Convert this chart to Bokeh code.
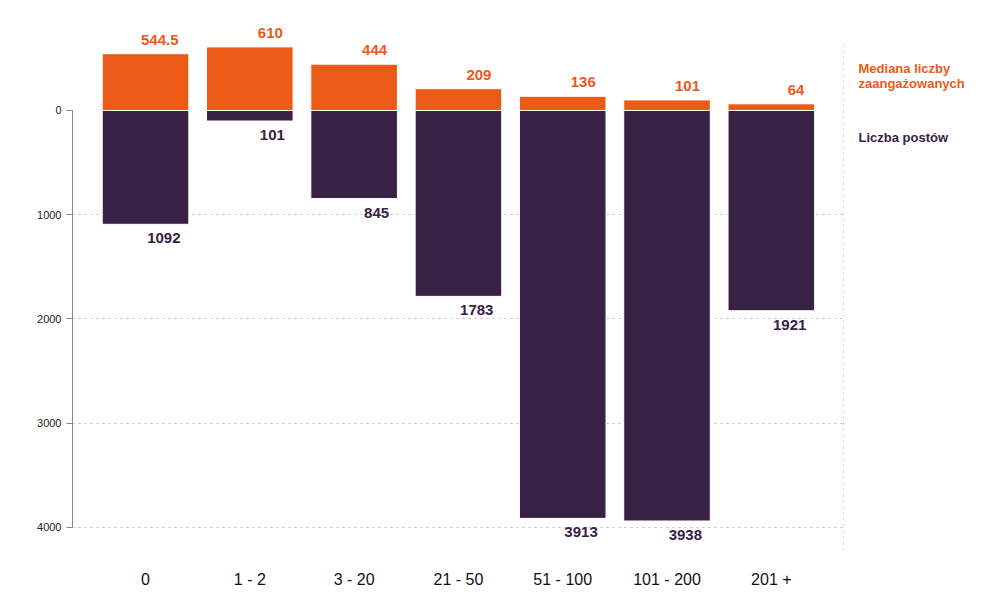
from bokeh.plotting import figure
from bokeh.models import ColumnDataSource, FixedTicker, Label, Grid
from bokeh.core.properties import value
from bokeh.embed import file_html
from bokeh.resources import INLINE

categories = ["0", "1 - 2", "3 - 20", "21 - 50", "51 - 100", "101 - 200", "201 +"]
median_engaged = [544.5, 610, 444, 209, 136, 101, 64]
post_counts = [1092, 101, 845, 1783, 3913, 3938, 1921]
median_labels = ["544.5", "610", "444", "209", "136", "101", "64"]
post_labels = ["1092", "101", "845", "1783", "3913", "3938", "1921"]
y_ticks = [0, 1000, 2000, 3000, 4000]

ORANGE = "#EB5A17"
PURPLE = "#372245"
FONT = "Liberation Sans"

X_START, X_PLOT_END, X_END = -0.70, 6.692, 8.178
Y_START, Y_PLOT_END, Y_END = -4221, 671, 959

xs = list(range(len(categories)))
src = ColumnDataSource(dict(
    x=xs,
    med=median_engaged,
    neg=[-v for v in post_counts],
    mlab=median_labels,
    plab=post_labels,
))

p = figure(width=998, height=606, output_backend="svg", toolbar_location=None,
           x_range=(X_START, X_END), y_range=(Y_START, Y_END),
           min_border_left=72, min_border_right=0, min_border_top=10, min_border_bottom=56)
p.outline_line_color = None
p.background_fill_color = "white"

has_cross = "cross_bounds" in Grid.properties()

grid_ticks = [-t for t in y_ticks if t > 0]
p.xgrid.grid_line_color = None
if has_cross:
    p.ygrid.ticker = FixedTicker(ticks=grid_ticks)
    p.ygrid.cross_bounds = (X_START, X_PLOT_END)
    p.ygrid.grid_line_color = "#bbbbbb"
    p.ygrid.grid_line_dash = "dotted"
    p.ygrid.grid_line_width = 1
    sep = Grid(dimension=0, ticker=FixedTicker(ticks=[X_PLOT_END]),
               cross_bounds=(Y_START, Y_PLOT_END),
               grid_line_color="#cccccc", grid_line_dash="dotted", grid_line_width=1)
    p.add_layout(sep)
else:
    p.ygrid.grid_line_color = None
    p.segment(x0=[X_START] * len(grid_ticks), x1=[X_PLOT_END] * len(grid_ticks),
              y0=grid_ticks, y1=grid_ticks, line_color="#bbbbbb", line_dash="dotted",
              line_width=1, level="underlay")
    p.segment(x0=[X_PLOT_END], x1=[X_PLOT_END], y0=[Y_START], y1=[Y_PLOT_END],
              line_color="#cccccc", line_dash="dotted", line_width=1, level="underlay")

p.vbar(x="x", top="med", bottom=0, width=0.83, source=src,
       fill_color=ORANGE, line_color="white", line_width=1)
p.vbar(x="x", top=0, bottom="neg", width=0.83, source=src,
       fill_color=PURPLE, line_color="white", line_width=1)

p.text(x="x", y="med", text="mlab", source=src, text_align="right", text_baseline="bottom",
       x_offset=33, y_offset=-9, text_color=ORANGE, text_font=value(FONT),
       text_font_style="bold", text_font_size="15px")
p.text(x="x", y="neg", text="plab", source=src, text_align="right", text_baseline="top",
       x_offset=35, y_offset=9, text_color=PURPLE, text_font=value(FONT),
       text_font_style="bold", text_font_size="15px")

# y axis
yax = p.yaxis[0]
yax.ticker = FixedTicker(ticks=[-t for t in y_ticks])
yax.major_label_overrides = {-t: str(t) for t in y_ticks}
yax.bounds = (-max(y_ticks), 0)
yax.axis_line_color = "#888888"
yax.major_tick_line_color = "#888888"
yax.major_tick_out = 6
yax.major_tick_in = 0
yax.minor_tick_line_color = None
yax.major_label_text_font = FONT
yax.major_label_text_font_size = "11px"
yax.major_label_text_color = "#222222"
yax.major_label_standoff = 5

# x axis
xax = p.xaxis[0]
xax.ticker = FixedTicker(ticks=xs)
xax.major_label_overrides = {i: c for i, c in enumerate(categories)}
xax.axis_line_color = None
xax.major_tick_line_color = None
xax.minor_tick_line_color = None
xax.major_tick_out = 0
xax.major_tick_in = 0
xax.major_label_standoff = 20
xax.major_label_text_font = FONT
xax.major_label_text_font_size = "16px"
xax.major_label_text_color = "#111111"

for txt, yy, col in [("Mediana liczby", 403, ORANGE), ("zaangażowanych", 259, ORANGE),
                     ("Liczba postów", -259, PURPLE)]:
    p.add_layout(Label(x=6.836, y=yy, text=txt,
                       text_align="left", text_baseline="middle", text_color=col,
                       text_font=FONT, text_font_style="bold", text_font_size="13px"))

open("out.html", "w").write(file_html(p, INLINE))
